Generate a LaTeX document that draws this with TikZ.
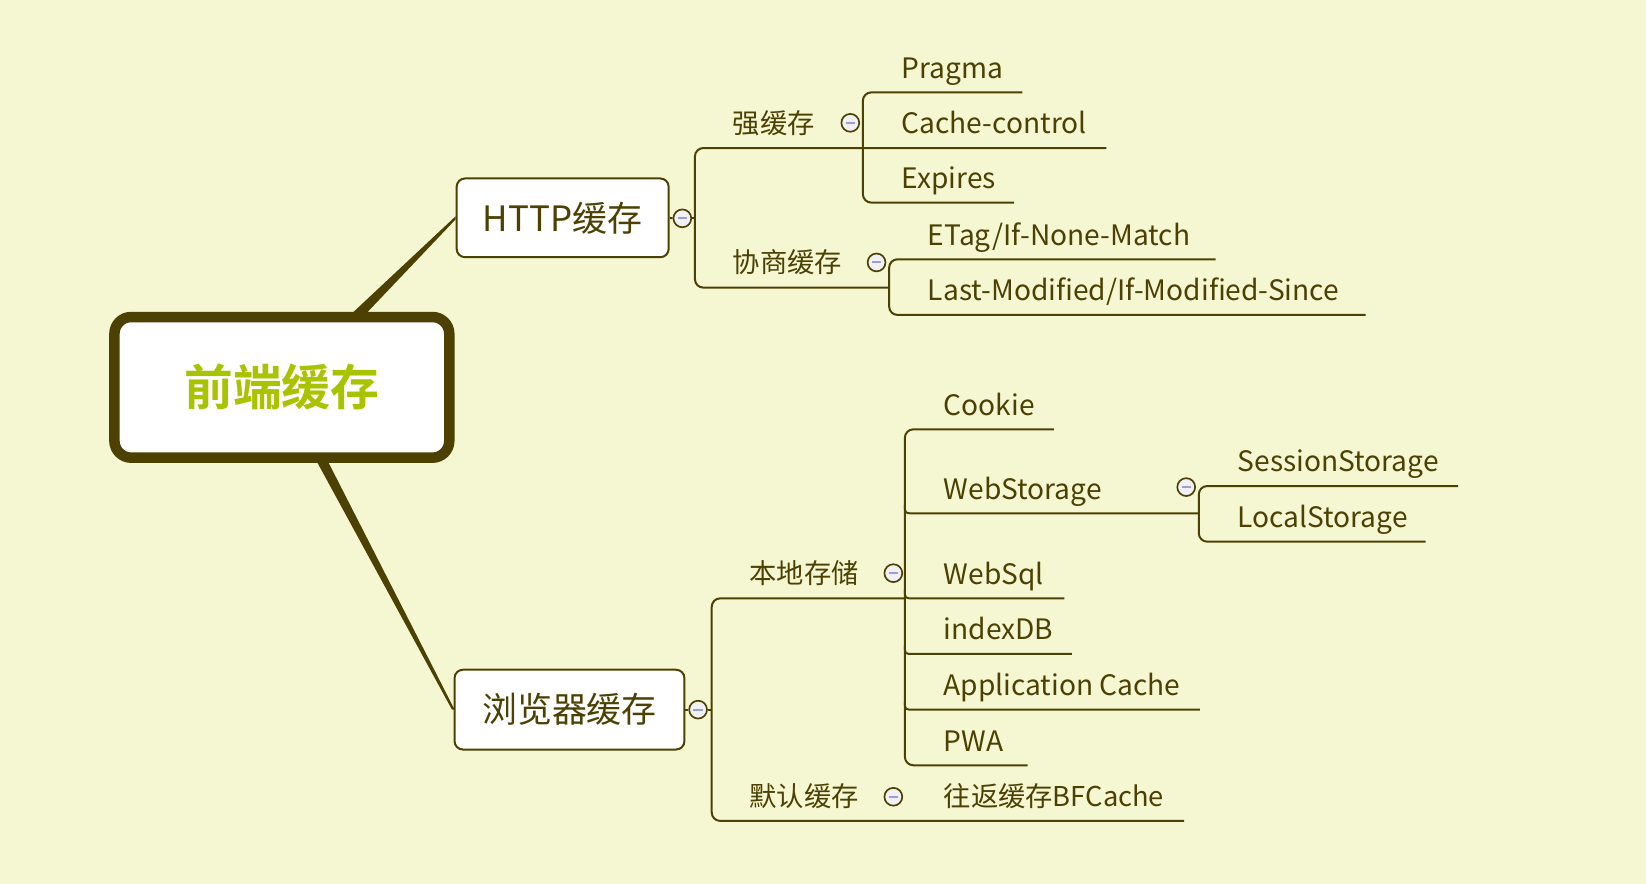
\documentclass[tikz,border=0pt]{standalone}
\usepackage{fontspec}
\setmainfont{Noto Sans CJK SC}[BoldFont=Noto Sans CJK SC Bold]
\definecolor{bgc}{HTML}{F5F7D3}
\definecolor{ink}{HTML}{4C4103}
\definecolor{leafgreen}{HTML}{A8C400}
\definecolor{togfill}{HTML}{F0F0F5}
\definecolor{minuscol}{HTML}{9BA0CC}
\pgfdeclarelayer{back}
\pgfdeclarelayer{mid}
\pgfsetlayers{back,mid,main}
\begin{document}
\begin{tikzpicture}[x=1pt,y=-1pt,line join=round,
  wire/.style={draw=ink,line width=1.9pt,rounded corners=8pt},
  lbl/.style={anchor=base west,inner sep=0pt,outer sep=0pt,text=ink,font=\fontsize{26}{30}\selectfont},
  latin/.style={lbl,font=\fontsize{26.8}{30}\selectfont},
  topic/.style={draw=ink,line width=1.9pt,fill=white,rounded corners=8pt,text=ink,font=\fontsize{33.3}{38}\selectfont,inner sep=0pt},
  rootbox/.style={draw=ink,line width=10pt,fill=white,rounded corners=16pt,text=leafgreen,font=\bfseries\fontsize{46.5}{52}\selectfont,inner sep=0pt},
  togg/.style={circle,draw=ink,line width=1.6pt,fill=togfill,minimum size=17pt,inner sep=0pt,
    path picture={\draw[minuscol,line width=2pt] ([xshift=-4.5pt]path picture bounding box.center) -- ([xshift=4.5pt]path picture bounding box.center);}}]
\begin{pgfonlayer}{back}
\fill[bgc] (0,0) rectangle (1568,842);
\end{pgfonlayer}
\useasboundingbox (0,0) rectangle (1568,842);

% main topics
\node[rootbox,minimum width=319pt,minimum height=134pt] (root) at (268.5,369) {\raisebox{-2pt}{前端缓存}};
\node[topic,minimum width=202pt,minimum height=75pt] (http) at (536,207.5) {\raisebox{-1pt}{HTTP缓存}};
\node[topic,minimum width=219pt,minimum height=76pt] (browser) at (542.5,676) {\raisebox{-1pt}{浏览器缓存}};

% tapered connectors
\begin{pgfonlayer}{mid}
\fill[ink] (323,310) -- (338,310) -- ([yshift=-1.5pt]http.west) -- ([yshift=1.5pt]http.west) -- cycle;
\fill[ink] (296.5,430) -- (307.5,430) -- ([xshift=1pt]browser.west) -- ([xshift=-1.5pt]browser.west) -- cycle;
\end{pgfonlayer}

% labels
\node[lbl] (qiang) at (698,127) {强缓存};
\node[lbl] (xieshang) at (698,260) {协商缓存};
\node[latin] (pragma) at (859,74.5) {Pragma};
\node[latin] (cachec) at (859,127.5) {Cache-control};
\node[latin] (expires) at (859,179.5) {Expires};
\node[latin] (etag) at (884,233.5) {ETag/If-None-Match};
\node[latin] (lastmod) at (884,286.5) {Last-Modified/If-Modified-Since};
\node[lbl] (bendi) at (714,556) {本地存储};
\node[lbl] (moren) at (714,768) {默认缓存};
\node[latin] (cookie) at (899,395.5) {Cookie};
\node[latin] (webst) at (899,475.5) {WebStorage};
\node[latin] (sess) at (1179,449.5) {SessionStorage};
\node[latin] (local) at (1179,502.5) {LocalStorage};
\node[latin] (websql) at (899,556.5) {WebSql};
\node[latin] (idb) at (899,609.5) {indexDB};
\node[latin] (appc) at (899,662.5) {Application Cache};
\node[latin] (pwa) at (899,715.5) {PWA};
\node[lbl] (bfc) at (899,768) {往返缓存BFCache};

% toggles
\node[togg] (tHttp) at (650,208) {};
\node[togg] (tBr) at (665,676) {};
\node[togg] (tQiang) at (810,117) {};
\node[togg] (tXie) at (835,250) {};
\node[togg] (tBendi) at (851,546) {};
\node[togg] (tMoren) at (851,759) {};
\node[togg] (tWeb) at (1130,464) {};

% junction coordinates
\coordinate (jHttp) at (662,208);
\coordinate (jBr) at (678,676);

% HTTP branch
\draw[wire] (http.east) -- (tHttp.west);
\draw[wire] (tHttp.east) -- (jHttp);
\draw[wire] (1054,141) -- (662,141) -- (662,274) -- (847,274);
\draw[wire] (974,88) -- (822,88) -- (822,193) -- (966,193);
\draw[wire] (1158,247) -- (847,247) -- (847,300) -- (1301,300);

% browser branch
\draw[wire] (browser.east) -- (tBr.west);
\draw[wire] (tBr.east) -- (jBr);
\draw[wire] (862,570) -- (678,570) -- (678,782) -- (1128,782);
\draw[wire] (1004,409) -- (862,409) -- (862,729) -- (979,729);
\draw[wire,rounded corners=0pt] (862,481) .. controls (862,489) .. (870,489) -- (1142,489);
\draw[wire,rounded corners=0pt] (862,562) .. controls (862,570) .. (870,570) -- (1014,570);
\draw[wire,rounded corners=0pt] (862,615) .. controls (862,623) .. (870,623) -- (1021,623);
\draw[wire,rounded corners=0pt] (862,668) .. controls (862,676) .. (870,676) -- (1143,676);
\draw[wire] (1389,463) -- (1142,463) -- (1142,516) -- (1358,516);
\end{tikzpicture}
\end{document}
